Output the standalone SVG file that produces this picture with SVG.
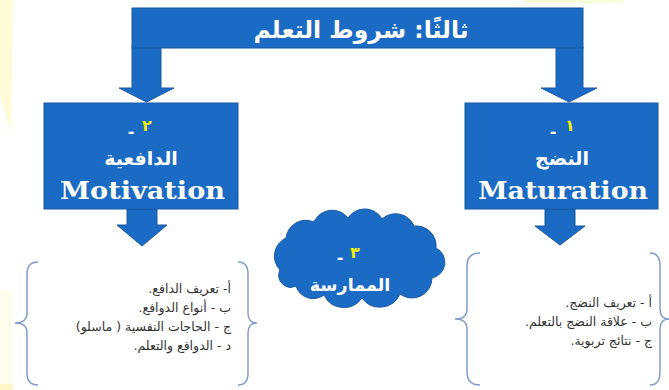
<svg xmlns="http://www.w3.org/2000/svg" width="669" height="390" viewBox="0 0 669 390">
<style>
.blue{fill:#1b6bc4;stroke:#1759a6;stroke-width:1}
.ar{font-family:"DejaVu Sans","Noto Sans",sans-serif;direction:rtl}
.w{fill:#ffffff;font-weight:bold}
.y{fill:#f2ee10;font-weight:bold}
.en{font-family:"DejaVu Serif","Liberation Serif",serif;font-weight:bold;fill:#ffffff;font-size:25px}
.item{font-size:12.5px;fill:#333333}
.brace{fill:none;stroke:#7f9ecd;stroke-width:1.5}
</style>
<rect width="669" height="390" fill="#ffffff"/>
<g id="background">
<polygon points="0,0 13,0 11,132 0,95" fill="#fffbd6"/>
<rect x="0" y="290" width="12" height="100" fill="#fffdeb"/>
<rect x="0" y="384" width="13" height="6" fill="#fff6c8"/>
<rect x="525" y="0" width="98" height="3" fill="#f6fbd8"/>
</g>
<g id="connectors">
<polygon class="blue" points="132,47 161,47 161,88 174,88 146.5,102 119,88 132,88"/>
<polygon class="blue" points="556,47 583,47 583,88 597,88 569,102 541,88 556,88"/>
<polygon class="blue" points="127,209 157,209 157,225 167,225 142,246 117,225 127,225"/>
<polygon class="blue" points="545,209 575,209 575,226 585,226 560,245 535,226 545,226"/>
</g>
<g id="title">
<rect class="blue" x="132" y="8" width="451" height="40"/>
<text class="ar w" x="361" y="38" font-size="23.5" text-anchor="middle">ثالثًا: شروط التعلم</text>
</g>
<g id="motivation">
<rect class="blue" x="44" y="103" width="194" height="106"/>
<text class="ar y" x="147" y="131" font-size="16" text-anchor="middle">٢</text>
<text class="ar w" x="131" y="137" font-size="16" text-anchor="middle">-</text>
<text class="ar w" x="141" y="165" font-size="19" text-anchor="middle">الدافعية</text>
<text class="en" x="60" y="199" textLength="165" lengthAdjust="spacingAndGlyphs">Motivation</text>
</g>
<g id="maturation">
<rect class="blue" x="465" y="103" width="193" height="106"/>
<text class="ar y" x="570" y="131" font-size="16" text-anchor="middle">١</text>
<text class="ar w" x="553" y="137" font-size="16" text-anchor="middle">-</text>
<text class="ar w" x="562" y="165" font-size="19" text-anchor="middle">النضج</text>
<text class="en" x="478" y="199" textLength="170" lengthAdjust="spacingAndGlyphs">Maturation</text>
</g>
<g id="practice">
<path class="blue" stroke="#2a5b94" d="M280,270 A20,20 0 0 1 286,238 A20,20 0 0 1 314,222 A20,20 0 0 1 348,218 A20,20 0 0 1 382,219 A20,20 0 0 1 414,226 A20,20 0 0 1 436,248 A16,16 0 0 1 432,278 A20,20 0 0 1 400,294 A22,22 0 0 1 362,298 A22,22 0 0 1 324,295 A18,18 0 0 1 296,286 A12,12 0 0 1 280,270 Z"/>
<text class="ar y" x="355" y="258" font-size="16" text-anchor="middle">٣</text>
<text class="ar w" x="340" y="263" font-size="16" text-anchor="middle">-</text>
<text class="ar w" x="350" y="291" font-size="17.5" text-anchor="middle">الممارسة</text>
</g>
<g id="motivation-list">
<path class="brace" d="M38,262 Q27,262 27,274 L27,313 Q27,323 15,323 Q27,323 27,333 L27,373 Q27,385 38,385"/>
<path class="brace" d="M238,262 Q248,262 248,274 L248,313 Q248,323 257,323 Q248,323 248,333 L248,373 Q248,385 238,385"/>
<text class="ar item" x="231" y="293" text-anchor="start">أ-   تعريف الدافع.</text>
<text class="ar item" x="231" y="312" text-anchor="start">ب - أنواع الدوافع.</text>
<text class="ar item" x="231" y="331" text-anchor="start">ج - الحاجات النفسية ( ماسلو)</text>
<text class="ar item" x="231" y="350" text-anchor="start">د - الدوافع والتعلم.</text>
</g>
<g id="maturation-list">
<path class="brace" d="M480,253 Q467,253 467,266 L467,309 Q467,319 455,319 Q467,319 467,329 L467,372 Q467,385 480,385"/>
<path class="brace" d="M650,253 Q660,253 660,266 L660,309 Q660,319 669,319 Q660,319 660,329 L660,372 Q660,385 650,385"/>
<text class="ar item" x="652" y="307" text-anchor="start">أ - تعريف النضج.</text>
<text class="ar item" x="652" y="326" text-anchor="start">ب - علاقة النضج بالتعلم.</text>
<text class="ar item" x="652" y="345" text-anchor="start">ج - نتائج تربوية.</text>
</g>
</svg>
